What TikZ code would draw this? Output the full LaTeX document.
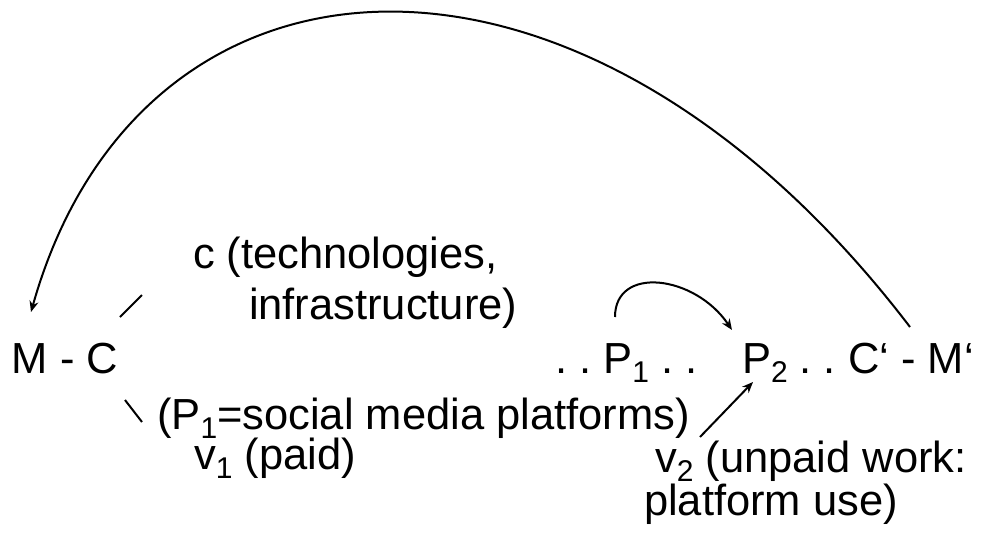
\documentclass[tikz,border=0pt]{standalone}
\usepackage{fontspec}
\setmainfont{Liberation Sans}
\usetikzlibrary{arrows.meta}
\newcommand{\subs}[1]{\raisebox{-9pt}{\fontsize{30}{30}\selectfont #1}}
\begin{document}
\begin{tikzpicture}[x=1pt,y=-1pt,
  every node/.style={inner sep=0pt, outer sep=0pt, anchor=base west, font=\fontsize{43.5}{48}\selectfont},
  conn/.style={line width=2pt, -{Stealth[length=11pt,width=9pt]}},
  tick/.style={line width=2pt}]
\useasboundingbox (0,0) rectangle (994,541);
% texts
\node (mc) at (12,373) {M - C};
\node (tech1) at (193,268) {c (technologies,};
\node (tech2) at (249,319) {infrastructure)};
\node (plat) at (157,429) {(P\subs{1}=social media platforms)};
\node (v1) at (194,469) {v\subs{1} (paid)};
\node (p1) at (555,373) {.\ .\ P\subs{1}\ .\ .};
\node (p2) at (742,373) {P\subs{2} .\ .\ C‘ - M‘};
\node (v2a) at (655,472) {v\subs{2} (unpaid work:};
\node (v2b) at (644,515) {platform use)};
% connector endpoints
\coordinate (bigS) at (910,327);
\coordinate (bigE) at (31,312);
\coordinate (smS) at (615,317);
\coordinate (smE) at (732,330);
\coordinate (v2S) at (700,437);
\coordinate (v2E) at (753,382);
\coordinate (t1a) at (120,317);
\coordinate (t1b) at (142,295);
\coordinate (t2a) at (125,400);
\coordinate (t2b) at (142,422);
% connectors
\draw[conn] (bigS) .. controls (580,-105) and (140,-75) .. (bigE);
\draw[conn] (smS) .. controls (615,265) and (695,275) .. (smE);
\draw[conn] (v2S) -- (v2E);
\draw[tick] (t1a) -- (t1b);
\draw[tick] (t2a) -- (t2b);
\end{tikzpicture}
\end{document}
